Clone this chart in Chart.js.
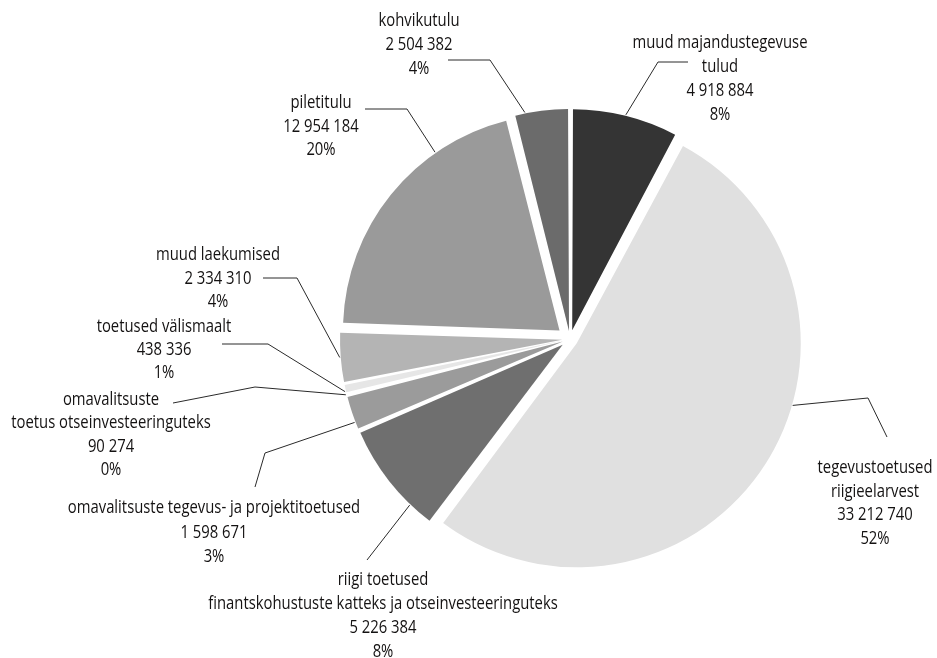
<!DOCTYPE html>
<html><head><meta charset="utf-8">
<script src="https://cdn.jsdelivr.net/npm/chart.js@4/dist/chart.umd.min.js"></script>
<style>html,body{margin:0;padding:0;background:#fff}#wrap{width:937px;height:658px;position:relative}</style>
</head><body><div id="wrap"><canvas id="c" width="937" height="658"></canvas></div>
<script>
// ---- data ----
const categories = [
  ['muud majandustegevuse', 'tulud'],
  ['tegevustoetused', 'riigieelarvest'],
  ['riigi toetused', 'finantskohustuste katteks ja otseinvesteeringuteks'],
  ['omavalitsuste tegevus- ja projektitoetused'],
  ['omavalitsuste', 'toetus otseinvesteeringuteks'],
  ['toetused välismaalt'],
  ['muud laekumised'],
  ['piletitulu'],
  ['kohvikutulu']
];
const values = [4918884, 33212740, 5226384, 1598671, 90274, 438336, 2334310, 12954184, 2504382];

// ---- styles / layout ----
const colors = ['#343434', '#e0e0e0', '#6f6f6f', '#9b9b9b', '#6a6a6a', '#e6e6e6', '#b4b4b4', '#9a9a9a', '#6b6b6b'];
const explode = [14, 16, 14, 14, 14, 14, 14, 14, 14];
const labelPos = [[720, 43], [875, 468], [383, 580], [214, 508], [111, 400], [164, 327], [218, 255], [321, 103], [419, 21]];
const lineGap = [24, 23.5, 24, 24.5, 23.3, 23, 23.5, 23.5, 24];
const leaderPts = [
  [[688, 62], [658, 62]],
  [[887, 437], [868, 398]],
  [[367, 560]],
  [[255, 487], [265, 453]],
  [[173, 403], [255, 387]],
  [[222, 344], [268, 344]],
  [[263, 278], [297, 278]],
  [[365, 109], [407, 109]],
  [[448, 60], [490, 60]]
];
const anchorFrac = [0.5, 0.41, 0.22, 0.22, 0.5, 0.2, 0.5, 0.72, 0.19];
const FONT = '18px "Open Sans", "Noto Sans", sans-serif';
const REF_TEXT = 'muud majandustegevuse', REF_WIDTH = 175;

const total = values.reduce((a, b) => a + b, 0);
function fmt(n) { return String(n).replace(/\B(?=(\d{3})+(?!\d))/g, ' '); }

const labelPlugin = {
  id: 'labels',
  afterDatasetsDraw(chart) {
    const ctx = chart.ctx;
    const meta = chart.getDatasetMeta(0);
    ctx.save();
    ctx.font = FONT;
    const sx = REF_WIDTH / ctx.measureText(REF_TEXT).width;
    meta.data.forEach((arc, i) => {
      const p = arc.getProps(['x', 'y', 'startAngle', 'endAngle', 'outerRadius'], true);
      const mid = (p.startAngle + p.endAngle) / 2;
      const cx = p.x + Math.cos(mid) * explode[i];
      const cy = p.y + Math.sin(mid) * explode[i];
      const a = p.startAngle + (p.endAngle - p.startAngle) * anchorFrac[i];
      const ax = cx + Math.cos(a) * (p.outerRadius + 1);
      const ay = cy + Math.sin(a) * (p.outerRadius + 1);
      ctx.strokeStyle = '#2a2a2a';
      ctx.lineWidth = 1;
      ctx.beginPath();
      const pts = leaderPts[i];
      ctx.moveTo(pts[0][0], pts[0][1]);
      for (let k = 1; k < pts.length; k++) ctx.lineTo(pts[k][0], pts[k][1]);
      ctx.lineTo(ax, ay);
      ctx.stroke();

      const lines = categories[i].concat([fmt(values[i]), Math.round(values[i] / total * 100) + '%']);
      ctx.fillStyle = '#141212';
      ctx.textAlign = 'center';
      ctx.textBaseline = 'middle';
      lines.forEach((t, k) => {
        ctx.save();
        ctx.translate(labelPos[i][0], labelPos[i][1] + k * lineGap[i]);
        ctx.scale(sx, 1);
        ctx.fillText(t, 0, 0);
        ctx.restore();
      });
    });
    ctx.restore();
  }
};

new Chart(document.getElementById('c'), {
  type: 'pie',
  data: {
    labels: categories.map(c => c.join(' ')),
    datasets: [{
      data: values,
      backgroundColor: colors,
      borderWidth: 0,
      offset: (c) => {
        const i = c.dataIndex;
        const circ = values[i] / total * 2 * Math.PI;
        const fix = 1 - Math.sin(Math.min(Math.PI, circ));
        return 4 * explode[i] / (1 + fix);
      }
    }]
  },
  options: {
    responsive: false,
    animation: false,
    radius: 216,
    layout: { padding: { left: 203, right: 0, top: 20, bottom: 0 } },
    plugins: { legend: { display: false }, tooltip: { enabled: false } }
  },
  plugins: [labelPlugin]
});
</script>
</body></html>
